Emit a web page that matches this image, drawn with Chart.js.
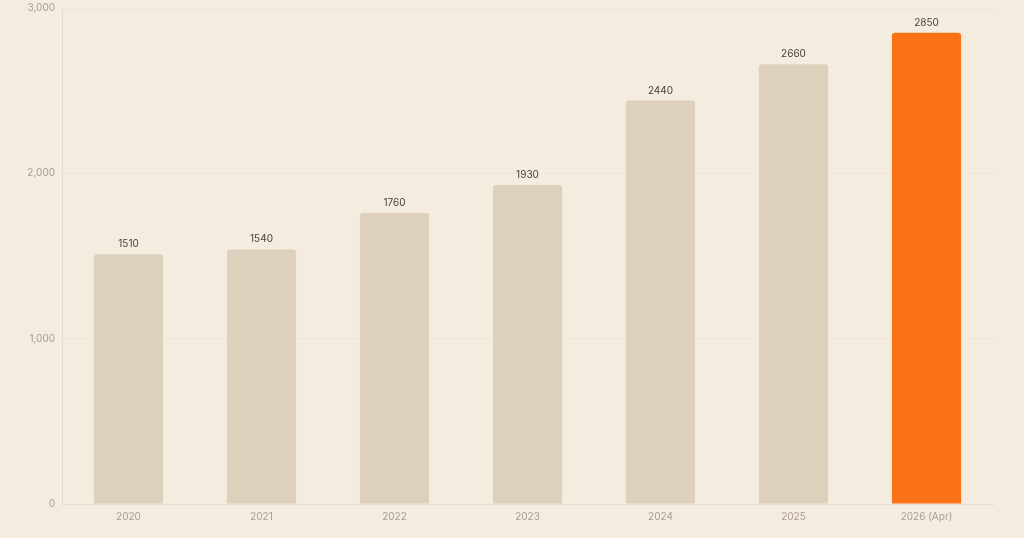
<!DOCTYPE html>
<html>
<head>
<meta charset="utf-8">
<script src="https://cdn.jsdelivr.net/npm/chart.js@4"></script>
<style>
  html, body { margin: 0; padding: 0; background: #f5ece0; }
  #wrap { width: 1024px; height: 538px; }
</style>
</head>
<body>
<div id="wrap"><canvas id="barChart"></canvas></div>
<script>
// chart data
var years = ['2020', '2021', '2022', '2023', '2024', '2025', '2026 (Apr)'];
var counts = [1510, 1540, 1760, 1930, 2440, 2660, 2850];
var yTicks = [0, 1000, 2000, 3000];

var barColors = counts.map((v, i) => i === counts.length - 1 ? '#f97316' : '#ddd0bc');

// draws the value above each bar
var valueLabels = {
    id: 'valueLabels',
    afterDatasetsDraw: function (chart) {
        var ctx = chart.ctx;
        var meta = chart.getDatasetMeta(0);
        ctx.save();
        ctx.font = '10px Inter, sans-serif';
        ctx.fillStyle = '#4a4038';
        ctx.textAlign = 'center';
        ctx.textBaseline = 'middle';
        meta.data.forEach(function (bar, i) {
            ctx.fillText(String(counts[i]), bar.x, bar.y - 10);
        });
        ctx.restore();
    }
};

var ctx = document.getElementById('barChart').getContext('2d');
var barChart = new Chart(ctx, {
    type: 'bar',
    data: {
        labels: years,
        datasets: [{
            data: counts,
            backgroundColor: barColors,
            borderRadius: { topLeft: 3, topRight: 3 },
            borderSkipped: 'bottom',
            categoryPercentage: 1,
            barPercentage: 0.52
        }]
    },
    options: {
        responsive: true,
        maintainAspectRatio: false,
        animation: false,
        layout: { padding: { top: 8, right: 31, bottom: 0, left: 0 } },
        plugins: {
            legend: { display: false },
            tooltip: { enabled: false }
        },
        scales: {
            x: {
                grid: { display: false },
                border: { color: '#e6dccd' },
                ticks: {
                    color: '#a89c8e',
                    font: { size: 10, family: 'Inter, sans-serif' },
                    padding: -1
                },
                afterFit: function (scale) { scale.height = 34; }
            },
            y: {
                min: 0,
                max: 3000,
                afterBuildTicks: function (scale) {
                    scale.ticks = yTicks.map(v => ({ value: v }));
                },
                grid: { color: '#efe5d8', drawTicks: false },
                border: { color: '#e6dccd' },
                ticks: {
                    color: '#a89c8e',
                    font: { size: 10, family: 'Inter, sans-serif' },
                    padding: 7,
                    callback: v => v.toLocaleString('en-US')
                },
                afterFit: function (scale) {
                    scale.width = 62;
                    scale.paddingTop = 0;
                    scale.paddingBottom = 0;
                }
            }
        }
    },
    plugins: [valueLabels]
});
</script>
</body>
</html>
